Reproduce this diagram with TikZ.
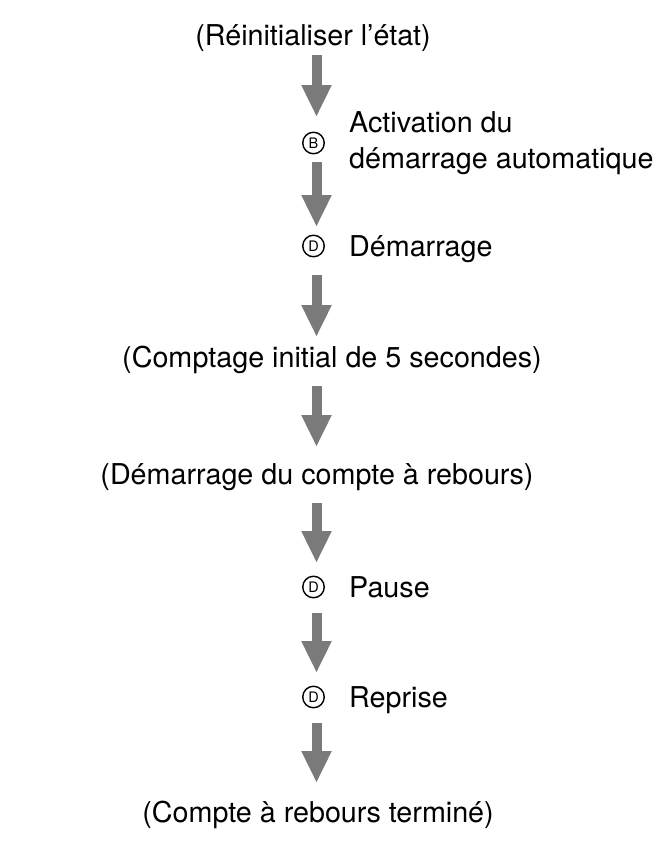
\documentclass[tikz,border=0pt]{standalone}
\usepackage{fontspec}
\setmainfont{TeX Gyre Heros}
\usetikzlibrary{arrows.meta}
\begin{document}
\begin{tikzpicture}[x=1pt,y=-1pt,
  txt/.style={inner sep=0pt,font=\fontsize{28.7}{36}\selectfont},
  lbl/.style={txt,anchor=base west,align=left},
  ctr/.style={txt,anchor=base},
  badge/.style={circle,draw,line width=1.4pt,minimum size=21.5pt,inner sep=0pt,font=\fontsize{14.5}{14.5}\selectfont},
  flow/.style={draw=arrowgray,line width=10pt,-{Triangle[width=28pt,length=32pt]}}]
\definecolor{arrowgray}{RGB}{122,122,122}
\useasboundingbox (0,0) rectangle (667,846);
\node[ctr] (top) at (313,45) {(Réinitialiser l’état)};
\node[badge] (B) at (313.5,143) {B};
\node[lbl] (actB) at (349,168) {Activation du\\démarrage automatique};
\node[badge] (D1) at (313.5,246) {D};
\node[lbl] (dem) at (349,256) {Démarrage};
\node[ctr] (comp) at (332,367) {(Comptage initial de 5 secondes)};
\node[ctr] (start) at (317,484) {(Démarrage du compte à rebours)};
\node[badge] (D2) at (313.5,587) {D};
\node[lbl] (pause) at (349,597) {Pause};
\node[badge] (D3) at (313.5,697) {D};
\node[lbl] (rep) at (349,707) {Reprise};
\node[ctr] (fin) at (318,822) {(Compte à rebours terminé)};
% column points for the arrows (slightly right of the badges)
\coordinate (cTop) at ([xshift=3pt]B.center |- top.base);
\coordinate (cB) at ([xshift=3pt]B.center);
\coordinate (cD1) at ([xshift=3pt]D1.center);
\coordinate (cComp) at (cD1 |- comp.base);
\coordinate (cStart) at (cD1 |- start.base);
\coordinate (cD2) at ([xshift=3pt]D2.center);
\coordinate (cD3) at ([xshift=3pt]D3.center);
\coordinate (cFin) at (cD3 |- fin.base);
\draw[flow,shorten <=10pt,shorten >=26pt] (cTop) -- (cB);
\draw[flow,shorten <=19pt,shorten >=19pt] (cB) -- (cD1);
\draw[flow,shorten <=29pt,shorten >=30pt] (cD1) -- (cComp);
\draw[flow,shorten <=19pt,shorten >=37pt] (cComp) -- (cStart);
\draw[flow,shorten <=19pt,shorten >=24pt] (cStart) -- (cD2);
\draw[flow,shorten <=26pt,shorten >=24pt] (cD2) -- (cD3);
\draw[flow,shorten <=26pt,shorten >=39pt] (cD3) -- (cFin);
\end{tikzpicture}
\end{document}
